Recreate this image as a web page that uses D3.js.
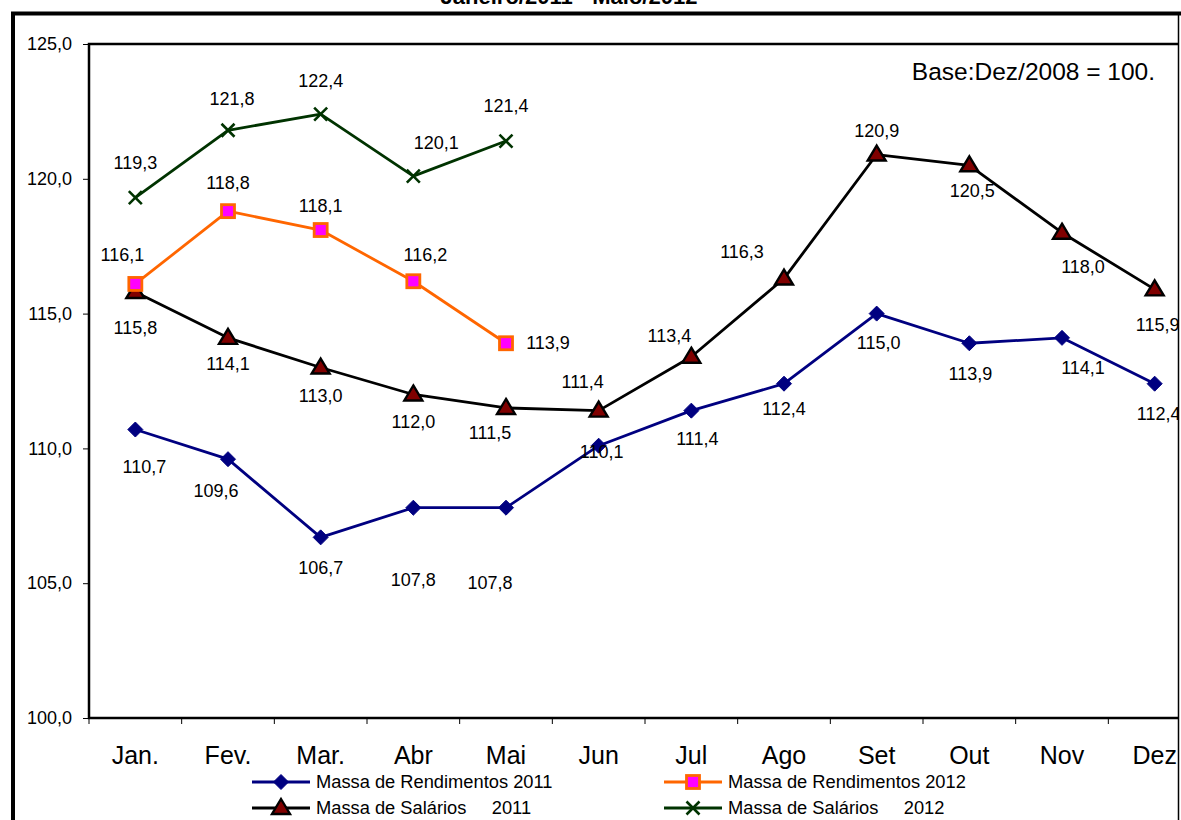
<!DOCTYPE html>
<html>
<head>
<meta charset="utf-8">
<script src="https://cdn.jsdelivr.net/npm/d3@7"></script>
<style>
  html, body { margin: 0; padding: 0; background: #fff; }
  svg { display: block; font-family: "Liberation Sans", Arial, sans-serif; }
  text { white-space: pre; }
</style>
</head>
<body>
<svg id="chart" width="1181" height="820"></svg>
<script>
// Months of the year
const months = ["Jan.", "Fev.", "Mar.", "Abr", "Mai", "Jun", "Jul", "Ago", "Set", "Out", "Nov", "Dez"];

// Index values (Base: Dez/2008 = 100)
const rendimentos2011 = [110.7, 109.6, 106.7, 107.8, 107.8, 110.1, 111.4, 112.4, 115.0, 113.9, 114.1, 112.4];
const salarios2011    = [115.8, 114.1, 113.0, 112.0, 111.5, 111.4, 113.4, 116.3, 120.9, 120.5, 118.0, 115.9];
const rendimentos2012 = [116.1, 118.8, 118.1, 116.2, 113.9];
const salarios2012    = [119.3, 121.8, 122.4, 120.1, 121.4];

const yTicks = [100, 105, 110, 115, 120, 125];

// Label nudges (px) relative to each point: [dx, dy]
const nudgeRend2011 = [[9,37],[-12,32],[0,30],[0,72],[-16,75],[3,6],[6,28],[0,25],[2,29],[1,30],[21,30],[4,30]];
const nudgeSal2011  = [[0,36],[0,26],[0,28],[0,27],[-16,25],[-16,-29],[-22,-21],[-42,-27],[0,-24],[3,25],[21,34],[3,35]];
const nudgeRend2012 = [[-13,-29],[0,-28],[0,-24],[12,-27],[42,-1]];
const nudgeSal2012  = [[0,-35],[4,-32],[0,-33],[23,-33],[0,-35]];

const svg = d3.select("#chart");
const fmt = v => d3.format(".1f")(v).replace(".", ",");

const plot = { left: 89, top: 44, bottom: 718, right: 1178 };

const x = d3.scaleBand().domain(months).range([plot.left, 1201]).paddingInner(0).paddingOuter(0);
const y = d3.scaleLinear().domain([100, 125]).range([plot.bottom, plot.top]);
const cx = m => x(m) + x.bandwidth() / 2;

// Chart title (top line of the frame)
svg.append("text")
  .attr("x", 569).attr("y", 4)
  .attr("text-anchor", "middle")
  .attr("font-size", 22).attr("font-weight", "bold")
  .text("Janeiro/2011 - Maio/2012");

// Outer frame
svg.append("line").attr("x1", 13).attr("x2", 13).attr("y1", 12).attr("y2", 820)
  .attr("stroke", "#000").attr("stroke-width", 4);
svg.append("line").attr("x1", 11).attr("x2", 1181).attr("y1", 13.5).attr("y2", 13.5)
  .attr("stroke", "#000").attr("stroke-width", 4);
svg.append("line").attr("x1", 1178.5).attr("x2", 1178.5).attr("y1", 12).attr("y2", 820)
  .attr("stroke", "#000").attr("stroke-width", 1.5);

// Clip so the last category is cut at the frame edge
svg.append("defs").append("clipPath").attr("id", "clip")
  .append("rect").attr("x", 0).attr("y", 0).attr("width", 1178).attr("height", 820);

const g = svg.append("g").attr("clip-path", "url(#clip)");

// Plot area border
g.append("rect")
  .attr("x", plot.left).attr("y", plot.top)
  .attr("width", 1201 - plot.left).attr("height", plot.bottom - plot.top)
  .attr("fill", "none").attr("stroke", "#000").attr("stroke-width", 2.5);

// Y axis
const yAxis = d3.axisLeft(y).tickValues(yTicks).tickSize(6).tickPadding(11).tickFormat(fmt);
const ya = g.append("g").attr("transform", `translate(${plot.left},0)`).call(yAxis);
ya.select(".domain").remove();
ya.selectAll("line").attr("stroke", "#000").attr("stroke-width", 1);
ya.selectAll("text").attr("font-size", 18).attr("font-family", "'Liberation Sans', Arial, sans-serif").attr("fill", "#000");

// X axis ticks at category boundaries
const boundaries = months.map(m => x(m)).concat([x(months[months.length - 1]) + x.bandwidth()]);
g.selectAll(".xtick").data(boundaries).enter().append("line")
  .attr("x1", d => d).attr("x2", d => d)
  .attr("y1", plot.bottom).attr("y2", plot.bottom + 6)
  .attr("stroke", "#000").attr("stroke-width", 1);

g.selectAll(".xlabel").data(months).enter().append("text")
  .attr("x", d => cx(d)).attr("y", 764)
  .attr("text-anchor", "middle")
  .attr("font-size", 25)
  .text(d => d);

// Base note
g.append("text")
  .attr("x", 1155).attr("y", 80)
  .attr("text-anchor", "end")
  .attr("font-size", 24.5)
  .text("Base:Dez/2008 = 100.");

// Marker drawers
const markers = {
  diamond: (sel, cxp, cyp) => sel.append("path")
    .attr("d", `M${cxp},${cyp - 7.5}L${cxp + 7.5},${cyp}L${cxp},${cyp + 7.5}L${cxp - 7.5},${cyp}Z`)
    .attr("fill", "#000080").attr("stroke", "#000080").attr("stroke-width", 1),
  triangle: (sel, cxp, cyp) => sel.append("path")
    .attr("d", `M${cxp},${cyp - 9}L${cxp + 9},${cyp + 6}L${cxp - 9},${cyp + 6}Z`)
    .attr("fill", "#800000").attr("stroke", "#000").attr("stroke-width", 2.4),
  square: (sel, cxp, cyp) => sel.append("rect")
    .attr("x", cxp - 6.5).attr("y", cyp - 6.5).attr("width", 13).attr("height", 13)
    .attr("fill", "#FF00FF").attr("stroke", "#FF6600").attr("stroke-width", 2.8),
  cross: (sel, cxp, cyp) => sel.append("path")
    .attr("d", `M${cxp - 6.5},${cyp - 6.5}L${cxp + 6.5},${cyp + 6.5}M${cxp + 6.5},${cyp - 6.5}L${cxp - 6.5},${cyp + 6.5}`)
    .attr("fill", "none").attr("stroke", "#003300").attr("stroke-width", 2.6)
};

const series = [
  { name: "Massa de Rendimentos 2011", values: rendimentos2011, color: "#000080", marker: "diamond", nudge: nudgeRend2011 },
  { name: "Massa de Salários     2011", values: salarios2011, color: "#000000", marker: "triangle", nudge: nudgeSal2011 },
  { name: "Massa de Rendimentos 2012", values: rendimentos2012, color: "#FF6600", marker: "square", nudge: nudgeRend2012 },
  { name: "Massa de Salários     2012", values: salarios2012, color: "#003300", marker: "cross", nudge: nudgeSal2012 }
];

const line = d3.line().x((d, i) => cx(months[i])).y(d => y(d));

// 2011 series first, 2012 series on top
series.forEach(s => {
  const sg = g.append("g");
  sg.append("path").datum(s.values)
    .attr("d", line)
    .attr("fill", "none").attr("stroke", s.color).attr("stroke-width", 2.8)
    .attr("stroke-linejoin", "round");
  s.values.forEach((v, i) => markers[s.marker](sg, cx(months[i]), y(v)));
  sg.selectAll(".lbl").data(s.values).enter().append("text")
    .attr("x", (d, i) => cx(months[i]) + s.nudge[i][0])
    .attr("y", (d, i) => y(d) + s.nudge[i][1])
    .attr("dy", "0.35em")
    .attr("text-anchor", "middle")
    .attr("font-size", 18)
    .text(d => fmt(d));
});

// Legend
const legendPos = [
  { lx: 252, ly: 782 }, { lx: 252, ly: 808 },
  { lx: 664, ly: 782 }, { lx: 664, ly: 808 }
];
series.forEach((s, k) => {
  const p = legendPos[k];
  const lg = g.append("g");
  lg.append("line").attr("x1", p.lx).attr("x2", p.lx + 58).attr("y1", p.ly).attr("y2", p.ly)
    .attr("stroke", s.color).attr("stroke-width", 2.8);
  markers[s.marker](lg, p.lx + 29, p.ly);
  lg.append("text").attr("x", p.lx + 64).attr("y", p.ly).attr("dy", "0.35em")
    .attr("font-size", 18.3).text(s.name);
});
</script>
</body>
</html>
